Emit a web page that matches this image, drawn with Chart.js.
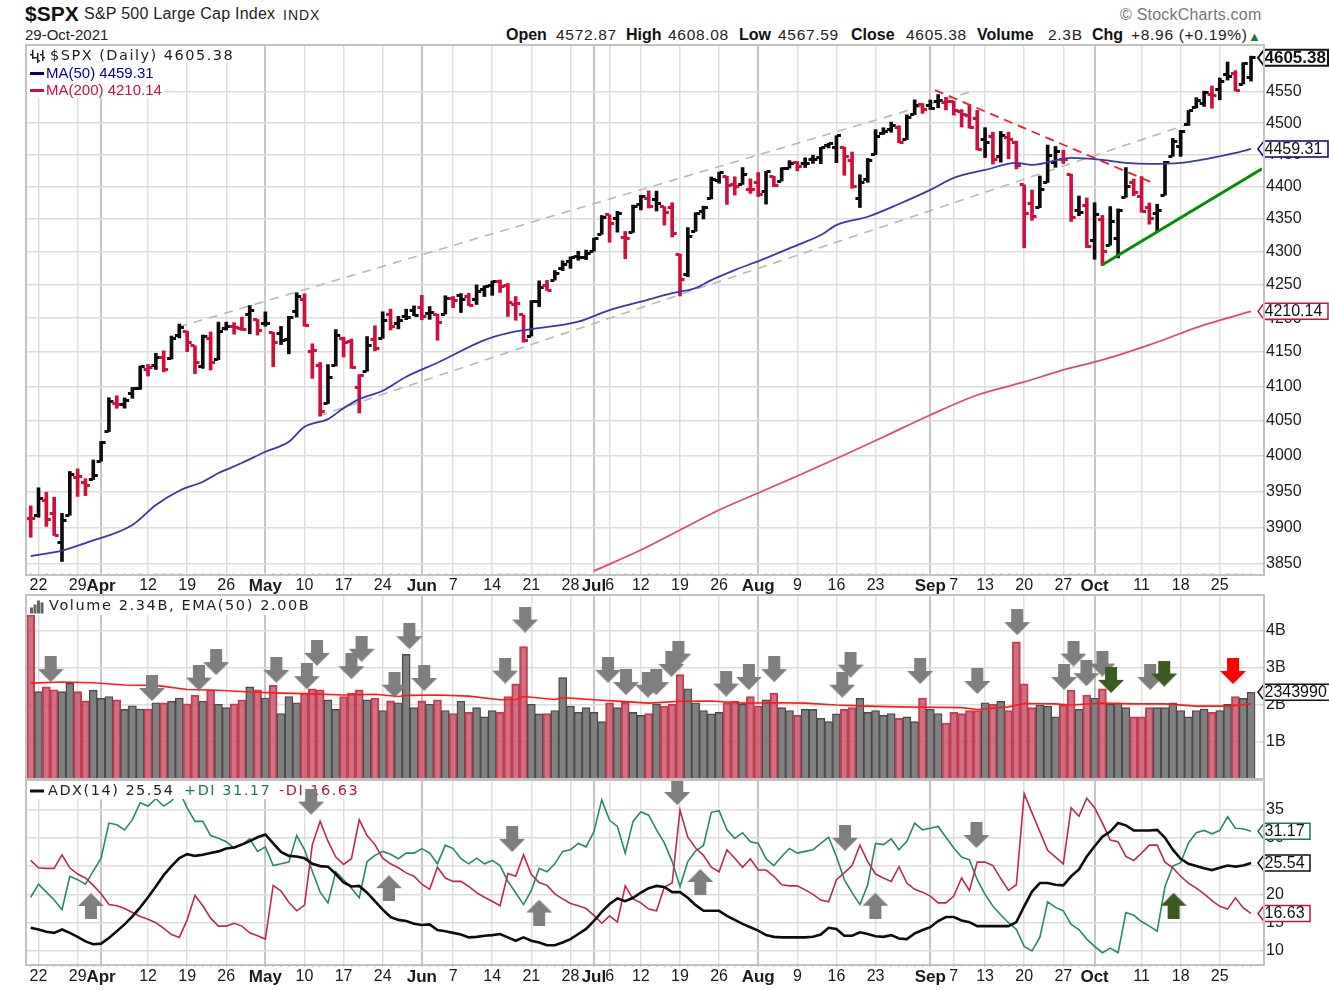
<!DOCTYPE html>
<html>
<head>
<meta charset="utf-8">
<title>$SPX</title>
<script src="https://cdn.jsdelivr.net/npm/chart.js@4"></script>
<style>
  body { margin:0; background:#fff; width:1329px; height:990px; overflow:hidden; position:relative; font-family:"Liberation Sans",Arial,sans-serif; color:#222; }
  canvas { position:absolute; left:0; }
  .t { position:absolute; white-space:nowrap; line-height:1; }
  .b { font-weight:bold; color:#111; }
  .v { font-size:15.5px; letter-spacing:.7px; top:27px; }
  .frame { position:absolute; left:25px; width:1236px; border:2px solid #c2c2c2; box-sizing:content-box; pointer-events:none; }
</style>
</head>
<body>
<span class="t b" style="left:25px;top:3px;font-size:21px">$SPX</span>
<span class="t" style="left:84px;top:6px;font-size:16px;letter-spacing:.25px">S&amp;P 500 Large Cap Index</span>
<span class="t" style="left:283px;top:8px;font-size:14px;letter-spacing:1px">INDX</span>
<span class="t" style="left:25px;top:27px;font-size:15px">29-Oct-2021</span>
<span class="t" style="left:1120px;top:7px;font-size:16px;color:#777;letter-spacing:.2px">&copy; StockCharts.com</span>
<span class="t b" style="left:506px;top:27px;font-size:16px">Open</span><span class="t v" style="left:556px">4572.87</span>
<span class="t b" style="left:626px;top:27px;font-size:16px">High</span><span class="t v" style="left:668px">4608.08</span>
<span class="t b" style="left:739px;top:27px;font-size:16px">Low</span><span class="t v" style="left:778px">4567.59</span>
<span class="t b" style="left:851px;top:27px;font-size:16px">Close</span><span class="t v" style="left:906px">4605.38</span>
<span class="t b" style="left:977px;top:27px;font-size:16px">Volume</span><span class="t v" style="left:1048px">2.3B</span>
<span class="t b" style="left:1092px;top:27px;font-size:16px">Chg</span><span class="t v" style="left:1131px">+8.96 (+0.19%)</span>
<span class="t" style="left:1248px;top:30px;font-size:13px;color:#1e7a3c">&#9650;</span>

<canvas id="price" width="1329" height="555" style="top:40px"></canvas>
<canvas id="volume" width="1329" height="190" style="top:590px"></canvas>
<canvas id="adx" width="1329" height="215" style="top:775px"></canvas>
<div class="frame" style="top:44px;height:528px"></div>
<div class="frame" style="top:594px;height:183px"></div>
<div class="frame" style="top:778px;height:184px"></div>

<script>
// daily bars, 19 Mar 2021 to 29 Oct 2021
var opens = [
  3913.14,3916.48,3937.60,3919.93,3879.34,3917.12,3969.31,3963.34,3967.25,3992.78,
  4034.44,4075.57,4074.29,4089.95,4096.11,4124.71,4130.10,4141.58,4139.76,4174.14,
  4179.80,4159.18,4128.42,4170.46,4138.78,4185.03,4188.25,4185.14,4206.14,4198.10,
  4191.98,4179.04,4177.06,4169.14,4210.34,4228.29,4150.34,4130.55,4074.99,4129.58,
  4169.92,4165.94,4098.45,4121.97,4168.61,4170.16,4205.94,4191.59,4201.94,4210.77,
  4216.52,4206.82,4206.05,4206.05,4229.34,4233.81,4232.99,4228.56,4242.90,4248.31,
  4255.28,4248.87,4220.37,4204.78,4173.40,4224.61,4249.27,4256.97,4274.45,4284.90,
  4293.21,4290.65,4300.73,4326.60,4356.46,4351.01,4321.07,4329.38,4372.41,4381.07,
  4380.11,4369.02,4367.43,4296.40,4265.11,4331.13,4361.27,4381.20,4409.58,4416.38,
  4402.95,4403.59,4395.12,4406.86,4392.74,4415.95,4408.86,4429.07,4437.77,4435.79,
  4442.18,4446.08,4464.84,4461.65,4462.12,4440.94,4382.44,4410.56,4450.29,4484.40,
  4490.45,4493.75,4474.10,4513.76,4529.75,4528.80,4534.48,4532.42,4535.38,4518.09,
  4513.02,4506.92,4474.81,4479.33,4447.49,4477.09,4469.74,4402.95,4374.45,4367.43,
  4406.75,4438.04,4442.12,4419.54,4362.41,4370.67,4317.16,4348.84,4309.87,4319.57,
  4383.73,4406.51,4385.44,4368.31,4358.01,4386.75,4447.69,4463.72,4497.34,4524.42,
  4532.24,4546.12,4553.69,4578.69,4580.22,4562.84,4572.87];
var highs = [
  3930.12,3955.31,3949.13,3942.08,3919.54,3978.19,3981.83,3968.01,3994.41,4020.63,
  4083.42,4086.23,4083.13,4098.19,4129.48,4131.76,4148.00,4151.69,4173.49,4191.31,
  4180.81,4159.18,4175.02,4179.57,4194.17,4194.19,4193.35,4201.53,4218.78,4198.10,
  4209.39,4179.04,4187.72,4202.70,4238.04,4236.39,4162.04,4134.73,4131.58,4183.13,
  4171.92,4169.15,4116.93,4172.80,4188.72,4209.52,4213.42,4202.61,4213.38,4218.36,
  4234.12,4217.37,4206.05,4233.45,4232.34,4236.74,4237.09,4249.74,4248.38,4255.59,
  4257.16,4251.89,4232.29,4204.78,4226.24,4255.84,4256.60,4271.28,4286.12,4292.14,
  4300.52,4302.43,4320.66,4355.43,4356.46,4361.88,4330.88,4371.60,4386.68,4393.68,
  4393.18,4369.02,4375.09,4296.40,4336.84,4359.70,4369.87,4415.18,4422.73,4416.38,
  4415.47,4429.97,4412.25,4422.18,4423.79,4416.17,4429.76,4440.82,4439.39,4445.21,
  4449.44,4461.77,4468.37,4480.26,4462.12,4454.32,4418.61,4444.35,4489.88,4492.81,
  4501.71,4495.90,4513.33,4537.36,4531.39,4537.11,4545.85,4541.45,4535.38,4521.79,
  4529.90,4520.47,4492.99,4485.68,4486.87,4485.87,4471.52,4402.95,4394.87,4416.75,
  4465.40,4463.12,4457.30,4419.54,4385.57,4382.55,4375.19,4355.51,4369.23,4365.57,
  4429.97,4412.02,4415.88,4374.89,4372.87,4439.73,4475.82,4488.75,4520.40,4540.87,
  4551.44,4559.67,4572.62,4598.53,4584.57,4597.55,4608.08];
var lows = [
  3886.75,3914.16,3901.57,3889.07,3853.50,3917.12,3943.25,3944.35,3966.98,3992.78,
  4034.44,4068.14,4068.31,4082.54,4095.51,4114.82,4124.43,4120.87,4139.76,4170.75,
  4150.47,4118.38,4126.01,4123.69,4138.78,4182.36,4176.22,4181.78,4176.81,4174.85,
  4188.03,4128.59,4160.94,4147.33,4201.64,4188.13,4111.53,4056.88,4074.99,4129.58,
  4142.69,4125.99,4061.41,4121.97,4151.72,4170.16,4182.52,4184.11,4197.78,4203.57,
  4197.59,4198.27,4167.34,4206.05,4215.66,4208.41,4218.74,4220.34,4232.25,4234.07,
  4238.35,4202.45,4196.89,4164.40,4173.40,4217.27,4241.43,4256.97,4271.16,4274.67,
  4287.04,4287.96,4300.73,4326.60,4314.37,4329.79,4289.37,4329.38,4364.03,4366.92,
  4362.36,4340.70,4322.53,4233.13,4262.05,4331.13,4350.06,4381.20,4405.45,4372.51,
  4387.01,4403.59,4389.65,4384.81,4373.00,4400.23,4408.86,4429.07,4424.74,4430.03,
  4436.42,4435.96,4460.82,4437.66,4417.83,4397.59,4367.73,4406.80,4450.29,4482.28,
  4485.66,4468.99,4474.10,4513.76,4515.80,4522.02,4524.66,4521.30,4513.00,4493.95,
  4492.07,4457.66,4445.70,4435.46,4438.37,4443.80,4427.76,4305.91,4347.96,4367.43,
  4406.75,4430.27,4436.19,4346.33,4355.08,4306.24,4288.52,4278.94,4309.87,4290.49,
  4383.73,4386.22,4360.59,4342.09,4329.92,4386.75,4447.69,4447.47,4496.41,4524.40,
  4526.89,4524.00,4537.36,4569.17,4551.66,4562.84,4567.59];
var closes = [
  3913.10,3940.59,3910.52,3889.14,3909.52,3974.54,3971.09,3958.55,3972.89,4019.87,
  4077.91,4073.94,4079.95,4097.17,4128.80,4127.99,4141.59,4124.66,4170.42,4185.47,
  4163.26,4134.94,4173.42,4134.98,4180.17,4187.62,4186.72,4183.18,4211.47,4181.17,
  4192.66,4164.66,4167.59,4201.62,4232.60,4188.43,4152.10,4063.04,4112.50,4173.85,
  4163.29,4127.83,4115.68,4159.12,4155.86,4197.05,4188.13,4195.99,4200.88,4204.11,
  4202.04,4208.12,4192.85,4229.89,4226.52,4227.26,4219.55,4239.18,4247.44,4255.15,
  4246.59,4223.70,4221.86,4166.45,4224.79,4246.44,4241.84,4266.49,4280.70,4290.61,
  4291.80,4297.50,4319.94,4352.34,4343.54,4358.13,4320.82,4369.55,4384.63,4369.21,
  4374.30,4360.03,4327.16,4258.49,4323.06,4358.69,4367.48,4411.79,4422.30,4401.46,
  4400.64,4419.15,4395.26,4387.16,4423.15,4402.66,4429.10,4436.52,4432.35,4436.75,
  4442.41,4460.83,4468.00,4479.71,4448.08,4400.27,4405.80,4441.67,4479.53,4486.23,
  4496.19,4470.00,4509.37,4528.79,4522.68,4524.09,4536.95,4535.43,4520.03,4514.07,
  4493.28,4458.58,4468.73,4443.05,4480.70,4473.75,4432.99,4357.73,4354.19,4395.64,
  4448.98,4455.48,4443.11,4352.63,4359.46,4307.54,4357.04,4300.46,4345.72,4363.55,
  4399.76,4391.34,4361.19,4350.65,4363.80,4438.26,4471.37,4486.46,4519.63,4536.19,
  4549.78,4544.90,4566.48,4574.79,4551.68,4596.42,4605.38];

// moving averages, read at these bars
var ma50Bars = [0,4,7,13,16,19,22,24,27,30,33,35,38,40,42,45,48,52,58,61,64,70,74,78,82,85,87,90,94,98,101,103,107,111,115,118,122,126,128,133,137,140,143,147,151,154,156];
var ma50Values = [3860.9,3868.2,3878.7,3903.5,3931.2,3951.2,3963.8,3976,3990.1,4006.1,4020.2,4041.6,4052.6,4068.4,4081.4,4093.4,4113.8,4134.3,4167.6,4178,4183.8,4194.7,4212.1,4224.5,4237.5,4245,4257,4272.1,4290.3,4310.1,4325.4,4340.7,4353.5,4373.2,4395,4413.7,4426.2,4437.2,4434.1,4445.1,4441.9,4437.2,4435.6,4437.2,4445.1,4452.9,4459.31];
var ma200Bars = [72,78,83,88,93,98,104,109,115,121,127,132,137,143,150,156];
var ma200Values = [3840.5,3869.1,3896.6,3924.3,3948,3971.8,4001.4,4027,4058.5,4087.3,4106.2,4123.7,4138.3,4160.4,4189.9,4210.14];

// hand drawn trend lines: bar and price at each end
var channelTopBars = [18.84,120.1];   var channelTopPrices = [4186.7,4550];
var channelLowBars = [36.74,147.6];   var channelLowPrices = [4057,4497];
var redLineBars = [115.6,143.8];      var redLinePrices = [4553.1,4404.1];
var greenLineBars = [136.95,157.4];   var greenLinePrices = [4279.7,4428];

// volume in billions
var volumes = [
  4.43,2.36,2.49,2.41,2.36,2.59,2.36,2.11,2.40,2.18,
  2.23,2.14,1.88,1.98,1.89,1.89,2.06,2.06,2.10,2.19,
  2.03,2.27,2.10,2.41,2.02,1.93,2.03,2.14,2.49,2.41,
  2.19,2.53,1.77,2.23,2.06,2.32,2.44,2.41,2.14,1.88,
  2.23,2.32,2.41,2.14,2.19,1.85,2.11,2.06,3.37,1.93,
  2.11,2.02,2.14,1.85,1.77,2.10,1.80,1.93,1.68,1.85,
  1.80,2.23,2.57,3.58,2.02,1.76,1.77,1.85,2.74,1.97,
  1.80,1.93,1.80,1.55,2.06,1.93,2.07,1.80,1.72,1.77,
  2.03,1.97,2.02,2.82,2.44,2.06,1.85,1.76,1.80,2.06,
  2.10,2.02,2.23,1.97,2.14,2.32,1.93,1.85,1.72,1.88,
  1.88,1.64,1.55,1.76,1.88,1.93,2.18,1.80,1.85,1.72,
  1.77,1.64,1.68,1.55,2.19,1.89,1.77,1.51,1.80,1.77,
  1.85,1.85,2.06,2.02,2.10,1.85,3.71,2.57,1.93,2.00,
  1.97,1.68,2.00,2.40,1.88,2.27,2.19,2.44,2.02,2.05,
  1.93,1.68,1.68,1.93,1.93,1.93,2.06,1.85,1.68,1.85,
  1.89,1.80,1.85,2.02,2.23,2.18,2.344];
var emaBars = [0,4,8,12,16,20,24,28,32,36,40,44,47,48,52,56,60,62,63,67,68,72,76,79,83,87,91,95,99,103,107,111,115,119,121,125,127,131,133,137,141,145,149,153,156];
var emaValues = [2.59,2.62,2.60,2.54,2.53,2.42,2.40,2.35,2.32,2.30,2.27,2.29,2.23,2.26,2.27,2.24,2.14,2.15,2.23,2.15,2.20,2.14,2.09,2.05,2.10,2.11,2.05,2.06,2.05,2.00,1.97,1.95,1.94,1.93,1.88,1.95,2.04,2.03,2.00,2.05,2.03,2.03,1.97,1.97,2.03];

var plusDI = [
  19.5,21.8,20.4,19.0,17.3,23.2,22.6,21.8,24.1,26.4,
  32.6,32.3,31.4,33.2,36.2,35.6,36.9,35.6,36.5,38.2,
  35.3,32.9,32.9,30.4,29.9,29.3,28.2,28.8,29.8,27.6,
  28.4,25.1,25.4,25.7,30.4,27.9,24.1,20.4,18.5,24.0,
  22.6,21.1,19.4,25.8,26.9,27.6,27.1,26.3,27.3,27.3,
  28.1,27.3,25.4,28.7,28.1,26.3,25.4,26.4,25.4,26.0,
  25.1,22.3,20.3,18.2,20.7,24.6,24.0,25.4,27.6,27.9,
  29.0,28.4,31.1,36.7,33.1,32.0,27.3,32.9,34.6,34.0,
  31.4,29.1,25.8,21.4,25.8,27.7,28.6,34.5,34.8,31.4,
  29.9,30.9,29.3,29.0,26.3,25.1,26.7,28.1,27.3,27.6,
  27.9,29.0,30.1,26.7,22.6,20.3,18.2,21.7,29.0,28.8,
  29.8,27.9,29.4,32.6,31.4,31.7,32.0,30.1,28.2,26.6,
  26.1,22.6,20.0,17.9,16.4,15.0,13.8,10.8,10.0,12.4,
  18.7,17.7,17.1,14.7,13.8,12.1,10.8,9.7,10.5,9.7,
  16.8,16.3,15.2,14.4,13.5,21.4,25.0,25.6,29.1,30.9,
  31.3,30.7,31.3,33.7,31.7,31.6,31.17];
var minusDI = [
  26.0,24.7,24.6,24.6,27.0,24.7,23.6,22.9,21.6,20.1,
  18.2,18.0,17.5,16.8,16.1,15.6,15.0,14.0,12.9,12.4,
  15.5,19.8,18.0,15.8,14.4,14.4,14.9,14.4,13.2,12.7,
  12.1,21.6,20.6,18.6,17.1,18.1,28.8,32.9,29.4,26.6,
  25.3,26.3,33.2,30.4,28.8,26.4,25.4,24.7,23.8,23.2,
  21.8,20.9,24.8,22.9,22.3,22.3,21.4,20.3,19.5,18.8,
  18.0,23.7,23.2,27.0,23.5,22.1,21.6,20.1,19.2,18.4,
  18.0,17.5,16.3,14.9,16.2,15.1,21.5,19.2,18.5,17.4,
  17.1,21.3,22.0,34.9,30.1,28.2,26.9,24.8,24.0,27.9,
  26.4,24.8,26.3,24.3,24.3,23.2,21.7,21.5,21.5,20.8,
  20.0,19.0,18.7,22.6,23.8,25.1,28.7,25.8,23.6,22.9,
  22.3,24.9,22.0,20.9,20.4,19.7,18.5,18.5,19.7,22.9,
  20.7,25.7,25.7,25.1,22.8,20.7,21.7,37.8,34.4,31.1,
  27.8,26.6,25.4,35.3,33.8,37.0,35.3,32.6,29.6,29.3,
  26.7,26.0,27.3,28.7,28.7,25.7,24.7,23.2,22.0,21.1,
  20.1,18.9,17.9,17.4,19.4,17.6,16.63];
var adxValues = [
  14.1,13.8,13.4,13.2,13.8,13.2,12.5,11.7,11.2,11.3,
  12.3,13.5,14.7,16.1,17.7,19.5,21.4,23.4,25.0,26.4,
  27.1,26.8,27.0,27.3,27.6,28.1,28.3,28.8,29.4,30.1,
  30.6,29.0,27.5,26.8,26.7,26.4,25.4,25.0,24.9,23.6,
  22.1,21.4,21.5,20.3,18.8,17.3,16.0,15.5,15.3,14.8,
  14.6,14.7,13.7,13.5,13.2,12.9,12.4,12.5,12.7,12.8,
  13.0,12.4,11.8,12.4,11.8,11.5,11.0,11.0,11.5,12.1,
  13.0,13.9,15.3,16.9,18.3,19.3,18.8,19.4,20.3,21.1,
  21.5,21.3,20.4,20.4,19.4,18.1,17.1,17.1,17.1,16.2,
  15.5,14.8,14.2,13.6,12.8,12.5,12.4,12.4,12.4,12.4,
  12.5,12.9,14.1,13.9,12.7,12.7,13.3,13.0,12.6,12.5,
  12.8,12.2,12.1,13.1,13.7,14.2,15.3,16.0,16.0,15.4,
  15.1,14.4,14.4,14.4,14.4,14.4,15.1,17.9,20.5,22.0,
  22.0,21.7,21.6,23.2,24.4,26.7,28.5,30.2,31.1,32.6,
  32.2,31.3,31.3,31.3,31.4,30.0,27.9,26.3,25.4,25.0,
  24.6,24.3,24.7,25.1,24.9,25.1,25.54];

// arrows pasted on the chart: bar and panel value of each
var volDownBars = [2.56,15.5,21.5,23.7,31.4,35.3,36.6,41,42.3,46.5,48.4,50.3,60.65,63.2,73.8,76.1,78.9,79.96,81.9,82.8,88.9,91.8,95.05,103.75,104.8,113.7,121,126.1,132.1,133.3,134.95,137,143.1];
var volDownVals = [2.97,2.46,2.74,3.16,2.95,2.78,3.41,3.05,3.52,2.55,3.86,2.73,2.93,4.31,2.95,2.62,2.55,2.62,3.11,3.39,2.58,2.76,2.97,2.55,3.09,2.92,2.65,4.24,2.76,3.39,2.86,3.12,2.76];
var volGreenBars = [138.1,144.9];  var volGreenVals = [2.68,2.85];
var volRedBars = [153.7];          var volRedVals = [2.92];
var adxDownBars = [35.85,61.55,82.65,104.1,120.9];  var adxDownVals = [36.4,29.8,38.1,30.0,30.5];
var adxUpBars = [7.7,45.8,65,85.6,107.97];          var adxUpVals = [17.95,21.1,16.8,22.2,18.0];
var adxGreenUpBars = [146.1];                       var adxGreenUpVals = [18.0];

// date axis
var dateTicks = {1:'22',6:'29',9:'Apr',15:'12',20:'19',25:'26',30:'May',35:'10',40:'17',45:'24',50:'Jun',54:'7',59:'14',64:'21',69:'28',72:'Jul',74:'6',78:'12',83:'19',88:'26',93:'Aug',98:'9',103:'16',108:'23',115:'Sep',118:'7',122:'13',127:'20',132:'27',136:'Oct',142:'11',147:'18',152:'25'};
var monthBars = [9,30,50,72,93,115,136];
var priceTicks = [3850,3900,3950,4000,4050,4100,4150,4200,4250,4300,4350,4400,4450,4500,4550];
var volumeTicks = [1,2,3,4];
var adxTicks = [10,15,20,25,30,35];

var BLACK = '#0c0c0c', RED = '#d0103c', FONT = '"Liberation Sans",Arial,sans-serif';
var barIdx = closes.map(function (c, i) { return i; });
function isDown(i) { return i === 0 || closes[i] < closes[i - 1]; }
function pts(xs, ys) { return xs.map(function (x, k) { return {x: x, y: ys[k]}; }); }

// little ticks for the open and close of a bar
function sideTick(color, left) {
  var c = document.createElement('canvas');
  c.width = 11; c.height = 3;
  var g = c.getContext('2d');
  g.fillStyle = color;
  g.fillRect(left ? 1 : 6, 0, 4, 3);
  return c;
}
var tickStyles = {
  open: [sideTick(BLACK, true), sideTick(RED, true)],
  close: [sideTick(BLACK, false), sideTick(RED, false)]
};
function arrow(color, up) {
  var c = document.createElement('canvas');
  c.width = 26; c.height = 26;
  var g = c.getContext('2d');
  if (up) { g.translate(0, 26); g.scale(1, -1); }
  g.fillStyle = color;
  g.beginPath();
  g.moveTo(7, 0); g.lineTo(19, 0); g.lineTo(19, 13); g.lineTo(26, 13);
  g.lineTo(13, 26); g.lineTo(0, 13); g.lineTo(7, 13);
  g.closePath(); g.fill();
  return c;
}
function arrowSet(label, xs, ys, img) {
  return {type: 'line', label: label, data: pts(xs, ys), showLine: false, pointStyle: img, pointRadius: 13, pointHoverRadius: 13, clip: false};
}
function lineSet(label, data, color, width, dash) {
  return {type: 'line', label: label, data: data, borderColor: color, borderWidth: width, borderDash: dash || [], pointRadius: 0, tension: 0, fill: false, spanGaps: true};
}
function smooth(ds) { ds.cubicInterpolationMode = 'monotone'; return ds; }

function xAxis(height, showLabels) {
  return {
    type: 'linear', min: -0.6, max: 157.4, offset: false,
    afterBuildTicks: function (s) { s.ticks = barIdx.map(function (i) { return {value: i}; }); },
    afterFit: function (s) { s.height = height; s.paddingLeft = 0; s.paddingRight = 0; },
    border: {display: false},
    grid: {
      offset: false, drawTicks: showLabels, tickLength: 3, tickColor: '#a8a8a8', tickWidth: 1,
      color: function (c) {
        if (!c.tick || !dateTicks[c.tick.value]) return 'rgba(0,0,0,0)';
        return monthBars.indexOf(c.tick.value) >= 0 ? '#c6c6c6' : '#dfdfdf';
      },
      lineWidth: function (c) { return c.tick && monthBars.indexOf(c.tick.value) >= 0 ? 2 : 1.5; }
    },
    ticks: {
      display: showLabels, autoSkip: false, maxRotation: 0, padding: 0, color: '#1a1a1a',
      callback: function (v) { return dateTicks[v] || ''; },
      font: function (c) {
        var month = c.tick && monthBars.indexOf(c.tick.value) >= 0;
        return {family: FONT, size: month ? 17 : 16, weight: month ? 'bold' : 'normal'};
      }
    }
  };
}
function yAxis(extra, ticks, fmt) {
  var o = {
    position: 'right', offset: false,
    afterBuildTicks: function (s) { s.ticks = ticks.map(function (v) { return {value: v}; }); },
    afterFit: function (s) { s.width = 67; s.paddingTop = 0; s.paddingBottom = 0; },
    border: {display: false},
    grid: {color: '#dddddd', lineWidth: 1.5, tickLength: 3, tickColor: '#a8a8a8', tickWidth: 1},
    ticks: {autoSkip: false, padding: 1, color: '#1a1a1a', font: {family: FONT, size: 16}, callback: fmt}
  };
  for (var k in extra) o[k] = extra[k];
  return o;
}

// value tag at the right edge of a panel
function tag(chart, value, text, color, o) {
  o = o || {};
  var ctx = chart.ctx, y = chart.scales.y.getPixelForValue(value), r = o.right || 1328, h = 8;
  ctx.save();
  ctx.beginPath();
  ctx.moveTo(1258, y); ctx.lineTo(1264, y - h); ctx.lineTo(r, y - h); ctx.lineTo(r, y + h); ctx.lineTo(1264, y + h);
  ctx.closePath();
  ctx.fillStyle = '#fff'; ctx.fill();
  ctx.strokeStyle = color; ctx.lineWidth = o.line || 1.5; ctx.stroke();
  ctx.fillStyle = o.text || '#111';
  ctx.font = (o.bold ? 'bold 17px ' : '16px ') + FONT;
  ctx.textBaseline = 'middle';
  ctx.fillText(text, 1264.5, y + 0.5);
  ctx.restore();
}
// legend rows: white strip, then text
function writeRow(chart, r) {
  var ctx = chart.ctx, top = chart.canvas.offsetTop;
  ctx.save();
  ctx.fillStyle = '#fff';
  ctx.fillRect(27, r.maskY - top, r.maskW, r.maskH);
  ctx.textBaseline = 'middle';
  r.parts.forEach(function (p) {
    ctx.font = p.font;
    ctx.letterSpacing = p.spacing || '0px';
    ctx.fillStyle = p.color;
    ctx.fillText(p.text, p.x, r.y - top);
  });
  if (r.dash) { ctx.fillStyle = r.dash; ctx.fillRect(30, r.y - top - 1.5, 14, 3); }
  if (r.icon) r.icon(ctx, r.y - top);
  ctx.restore();
}
var legendFont = '14.5px "DejaVu Sans",sans-serif', maFont = '15px ' + FONT;
function ohlcIcon(ctx, y) {
  ctx.fillStyle = '#222';
  [[32, 2, 9], [37, 5, 12], [42, 2, 11]].forEach(function (b) { ctx.fillRect(b[0], y - 8 + b[1], 1.5, b[2]); ctx.fillRect(b[0] - 2, y - 4 + b[1], 2, 1.5); ctx.fillRect(b[0] + 1, y - 1 + b[1], 2, 1.5); });
}
function barIcon(ctx, y) {
  ctx.fillStyle = '#666';
  [[30, 1, 6], [33.5, -2, 9], [37, -6, 13], [40.5, -4, 11]].forEach(function (b) { ctx.fillRect(b[0], y + b[1], 3, b[2]); });
}
var panelLegends = {
  price: [
    {maskY: 46, maskW: 207, maskH: 17, y: 56, icon: ohlcIcon, parts: [{text: '$SPX (Daily) 4605.38', x: 50, font: legendFont, color: '#222', spacing: '1.5px'}]},
    {maskY: 63, maskW: 128, maskH: 18, y: 73.5, dash: '#00008b', parts: [{text: 'MA(50) 4459.31', x: 46, font: maFont, color: '#0000a0'}]},
    {maskY: 81, maskW: 137, maskH: 17, y: 90.5, dash: '#d0103c', parts: [{text: 'MA(200) 4210.14', x: 46, font: maFont, color: '#d0103c'}]}
  ],
  volume: [
    {maskY: 596, maskW: 284, maskH: 19, y: 606.5, icon: barIcon, parts: [{text: 'Volume 2.34B, EMA(50) 2.00B', x: 49, font: legendFont, color: '#222', spacing: '1.6px'}]}
  ],
  adx: [
    {maskY: 780, maskW: 338, maskH: 19, y: 791, dash: '#111', parts: [
      {text: 'ADX(14) 25.54', x: 48, font: legendFont, color: '#222', spacing: '1.5px'},
      {text: '+DI 31.17', x: 184, font: legendFont, color: '#1e7a4c', spacing: '1.5px'},
      {text: '-DI 16.63', x: 279, font: legendFont, color: '#b01848', spacing: '1.5px'}
    ]}
  ]
};
function overlay(key, afterLabel, tags) {
  return {
    id: 'overlay' + key,
    afterDatasetDraw: function (chart, args) {
      if (chart.data.datasets[args.index].label !== afterLabel) return;
      panelLegends[key].forEach(function (r) { writeRow(chart, r); });
    },
    afterDraw: function (chart) { tags.forEach(function (t) { tag(chart, t[0], t[1], t[2], t[3]); }); }
  };
}
var common = {
  responsive: false, animation: false, events: [],
  plugins: {legend: {display: false}, tooltip: {enabled: false}}
};
function opts(padTop, padBottom, scales) {
  return Object.assign({}, common, {layout: {autoPadding: false, padding: {left: 26, right: 0, top: padTop, bottom: padBottom}}, scales: scales});
}

new Chart(document.getElementById('price'), {
  type: 'bar',
  data: {datasets: [
    smooth(lineSet('MA50', pts(ma50Bars, ma50Values), '#3838a8', 1.8)),
    smooth(lineSet('MA200', pts(ma200Bars, ma200Values), '#e2486e', 1.8)),
    {type: 'line', label: 'open', showLine: false, pointRadius: 4, data: barIdx.map(function (i) { return {x: i, y: opens[i]}; }),
      pointStyle: function (c) { return tickStyles.open[isDown(c.dataIndex) ? 1 : 0]; }},
    {type: 'line', label: 'close', showLine: false, pointRadius: 4, data: barIdx.map(function (i) { return {x: i, y: closes[i]}; }),
      pointStyle: function (c) { return tickStyles.close[isDown(c.dataIndex) ? 1 : 0]; }},
    lineSet('green', pts(greenLineBars, greenLinePrices), '#0a8a0a', 3),
    lineSet('red', pts(redLineBars, redLinePrices), '#e8202a', 1.8, [9, 6]),
    {type: 'bar', label: 'range', barThickness: 3, grouped: false, borderWidth: 0,
      data: barIdx.map(function (i) { return {x: i, y: [lows[i], highs[i]]}; }),
      backgroundColor: function (c) { return isDown(c.dataIndex) ? RED : BLACK; }},
    lineSet('top', pts(channelTopBars, channelTopPrices), '#b8b8b8', 1.6, [9, 7]),
    lineSet('low', pts(channelLowBars, channelLowPrices), '#b8b8b8', 1.6, [9, 7])
  ]},
  options: opts(5, 0, {
    x: xAxis(22, true),
    y: yAxis({type: 'logarithmic', min: 3837.8, max: 4626.3}, priceTicks, function (v) { return String(v); })
  }),
  plugins: [overlay('price', 'MA50', [
    [4459.31, '4459.31', '#00008b'],
    [4210.14, '4210.14', '#d0103c'],
    [4605.38, '4605.38', '#111', {bold: true, line: 2}]
  ])]
});

new Chart(document.getElementById('volume'), {
  type: 'bar',
  data: {datasets: [
    arrowSet('up red', volRedBars, volRedVals, arrow('#ff0000', false)),
    arrowSet('down green', volGreenBars, volGreenVals, arrow('#3a5a20', false)),
    arrowSet('down gray', volDownBars, volDownVals, arrow('#7f7f7f', false)),
    lineSet('EMA', pts(emaBars, emaValues), '#ff1a1a', 1.6),
    {type: 'bar', label: 'volume', barThickness: 8, grouped: false, borderWidth: 1.4,
      data: barIdx.map(function (i) { return {x: i, y: volumes[i]}; }),
      backgroundColor: function (c) { return isDown(c.dataIndex) ? 'rgba(196,72,92,0.78)' : '#808080'; },
      borderColor: function (c) { return isDown(c.dataIndex) ? '#c23c52' : '#4a4a4a'; }}
  ]},
  options: opts(5, 1, {
    x: xAxis(0, false),
    y: yAxis({min: 0, max: 4.973}, volumeTicks, function (v) { return v + 'B'; })
  }),
  plugins: [overlay('volume', 'EMA', [[2.344, '2343990', '#111', {right: 1340}]])]
});

new Chart(document.getElementById('adx'), {
  type: 'line',
  data: {datasets: [
    arrowSet('up green', adxGreenUpBars, adxGreenUpVals, arrow('#3a5a20', true)),
    arrowSet('up gray', adxUpBars, adxUpVals, arrow('#7f7f7f', true)),
    arrowSet('down gray', adxDownBars, adxDownVals, arrow('#7f7f7f', false)),
    lineSet('ADX', barIdx.map(function (i) { return {x: i, y: adxValues[i]}; }), '#0c0c0c', 2.6),
    lineSet('minus', barIdx.map(function (i) { return {x: i, y: minusDI[i]}; }), '#b82a5a', 1.6),
    lineSet('plus', barIdx.map(function (i) { return {x: i, y: plusDI[i]}; }), '#2a8a5a', 1.6)
  ]},
  options: opts(4, 0, {
    x: xAxis(26, true),
    y: yAxis({min: 7.7, max: 40.39}, adxTicks, function (v) { return String(v); })
  }),
  plugins: [overlay('adx', 'ADX', [
    [31.17, '31.17', '#1e7a4c', {right: 1310}],
    [25.54, '25.54', '#111', {right: 1310}],
    [16.63, '16.63', '#b01848', {right: 1310}]
  ])]
});
</script>
</body>
</html>
